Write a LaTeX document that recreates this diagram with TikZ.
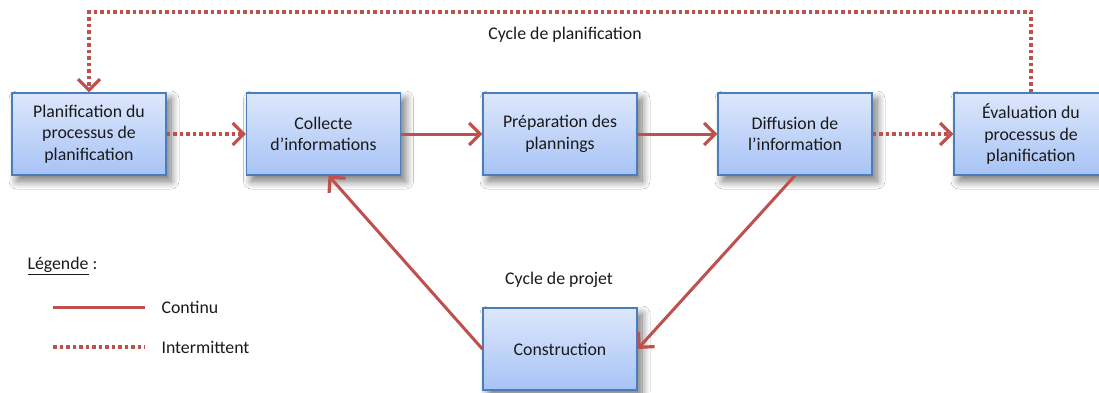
\documentclass[tikz,border=0pt]{standalone}
\usepackage{fontspec}
\setmainfont{Carlito}
\usetikzlibrary{arrows.meta,shadows.blur}
\definecolor{arrred}{HTML}{C0504D}
\definecolor{boxtop}{HTML}{DDE7FB}
\definecolor{boxbot}{HTML}{A7C3F6}
\definecolor{boxline}{HTML}{4A7EBB}
\definecolor{txt}{HTML}{1A1A1A}
\tikzset{
  stepbox/.style={draw=boxline, line width=1.2pt, top color=boxtop, bottom color=boxbot,
    minimum width=154pt, minimum height=82pt, align=center, text=txt,
    font=\fontsize{17.8pt}{21.7pt}\selectfont,
    blur shadow={shadow xshift=5pt, shadow yshift=-6pt, shadow opacity=55, shadow blur steps=14, shadow blur radius=8pt}},
  lbl/.style={text=txt, font=\fontsize{17.8pt}{21.7pt}\selectfont},
  cont/.style={draw=arrred, line width=3pt},
  inter/.style={draw=arrred, line width=4pt, dash pattern=on 3.5pt off 3pt},
  tip/.style={-{Straight Barb[length=11pt,width=22pt,line width=3.2pt]}},
}
\begin{document}
\begin{tikzpicture}[x=1pt,y=-1pt]
\useasboundingbox (0,0) rectangle (1099,392);
\fill[white] (0,0) rectangle (1099,392);

\node[stepbox] (b1) at (89,134) {Planification du\\processus de\\planification};
\node[stepbox] (b2) at (323.5,134) {Collecte\\d’informations};
\node[stepbox] (b3) at (560,134) {Préparation des\\plannings};
\node[stepbox] (b4) at (795,134) {Diffusion de\\l’information};
\node[stepbox] (b5) at (1031,134) {Évaluation du\\processus de\\planification};
\node[stepbox] (c) at (560,349) {Construction};

\node[lbl] (cp) at (565,35) {Cycle de planification};
\node[lbl] (cj) at (559,280) {Cycle de projet};

\draw[inter,tip] (b5.north) -- ++(0,-80) -| (b1.north);
\draw[inter,tip] (b1.east) -- (b2.west);
\draw[cont,tip] (b2.east) -- (b3.west);
\draw[cont,tip] (b3.east) -- (b4.west);
\draw[inter,tip] (b4.east) -- (b5.west);
\draw[cont,tip] (b4.south) -- (c.east);
\draw[cont,tip] (c.west) -- ([xshift=5pt]b2.south);

\node[lbl, anchor=west] (leg) at (24,266) {\underline{Légende} :};
\coordinate (s1) at (53,307);
\coordinate (s2) at (145,307);
\coordinate (d1) at (53,347);
\coordinate (d2) at (145,347);
\draw[cont] (s1) -- (s2);
\draw[inter, line width=3.5pt] (d1) -- (d2);
\node[lbl, anchor=west] (lc) at (158,307) {Continu};
\node[lbl, anchor=west] (li) at (158,347) {Intermittent};
\end{tikzpicture}
\end{document}
